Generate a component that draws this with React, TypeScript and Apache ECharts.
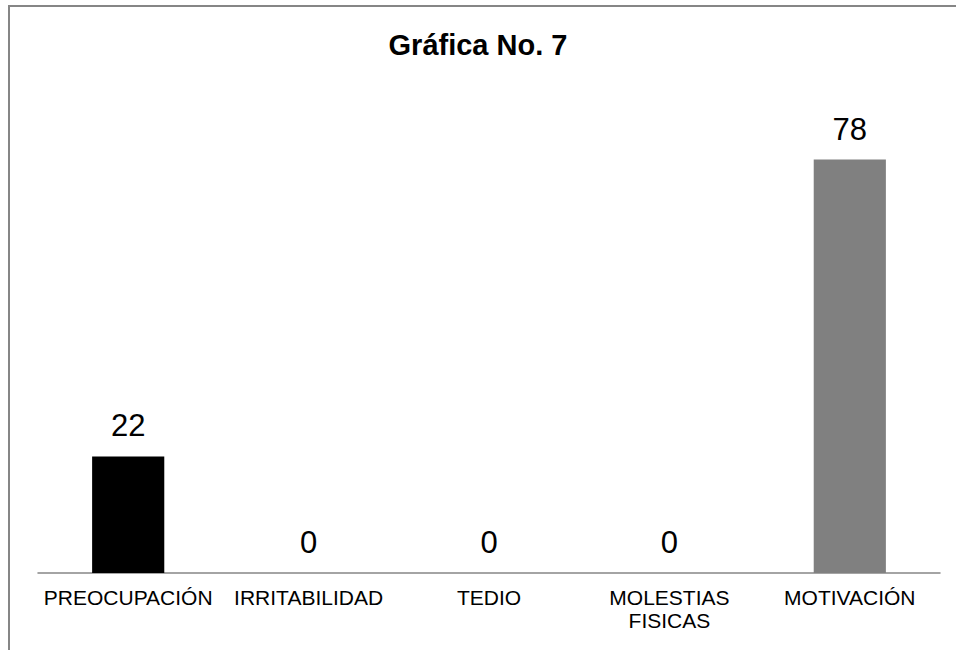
import React, { useEffect, useRef } from "react";
import * as echarts from "echarts";

const categories = ["PREOCUPACIÓN", "IRRITABILIDAD", "TEDIO", "MOLESTIAS\nFISICAS", "MOTIVACIÓN"];
const values = [22, 0, 0, 0, 78];
const barColors = ["#000000", "#000000", "#000000", "#000000", "#808080"];
const titleText = "Gráfica No. 7";

const FONT = "'Liberation Sans', Arial, sans-serif";

export default function App() {
  const ref = useRef<HTMLDivElement>(null);

  useEffect(() => {
    if (!ref.current) return;
    const chart = echarts.init(ref.current, undefined, { renderer: "svg" });
    chart.setOption({
      animation: false,
      backgroundColor: "#ffffff",
      title: {
        text: titleText,
        left: "center",
        top: 25,
        textStyle: { fontFamily: FONT, fontSize: 29, fontWeight: "bold", color: "#000" },
      },
      graphic: [
        {
          type: "rect",
          shape: { x: 9, y: 6, width: 1200, height: 1200 },
          style: { fill: "none", stroke: "#868686", lineWidth: 2 },
          silent: true,
        },
      ],
      grid: { left: 38, right: 16, top: 96, bottom: 77 },
      xAxis: {
        type: "category",
        data: categories,
        axisLine: { show: true, lineStyle: { color: "#868686", width: 1.5 } },
        axisTick: { show: false },
        axisLabel: {
          interval: 0,
          margin: 13,
          fontFamily: FONT,
          fontSize: 21,
          lineHeight: 23,
          color: "#000",
        },
      },
      yAxis: {
        type: "value",
        min: 0,
        max: 90,
        show: false,
        splitLine: { show: false },
      },
      series: [
        {
          type: "bar",
          data: values.map((v, i) => ({ value: v, itemStyle: { color: barColors[i] } })),
          barWidth: "40%",
          label: {
            show: true,
            position: "top",
            distance: 15,
            fontFamily: FONT,
            fontSize: 31,
            color: "#000",
          },
        },
      ],
    });
    return () => chart.dispose();
  }, []);

  return (
    <div
      ref={ref}
      style={{ position: "fixed", left: 0, top: 0, width: 956, height: 650 }}
    />
  );
}
